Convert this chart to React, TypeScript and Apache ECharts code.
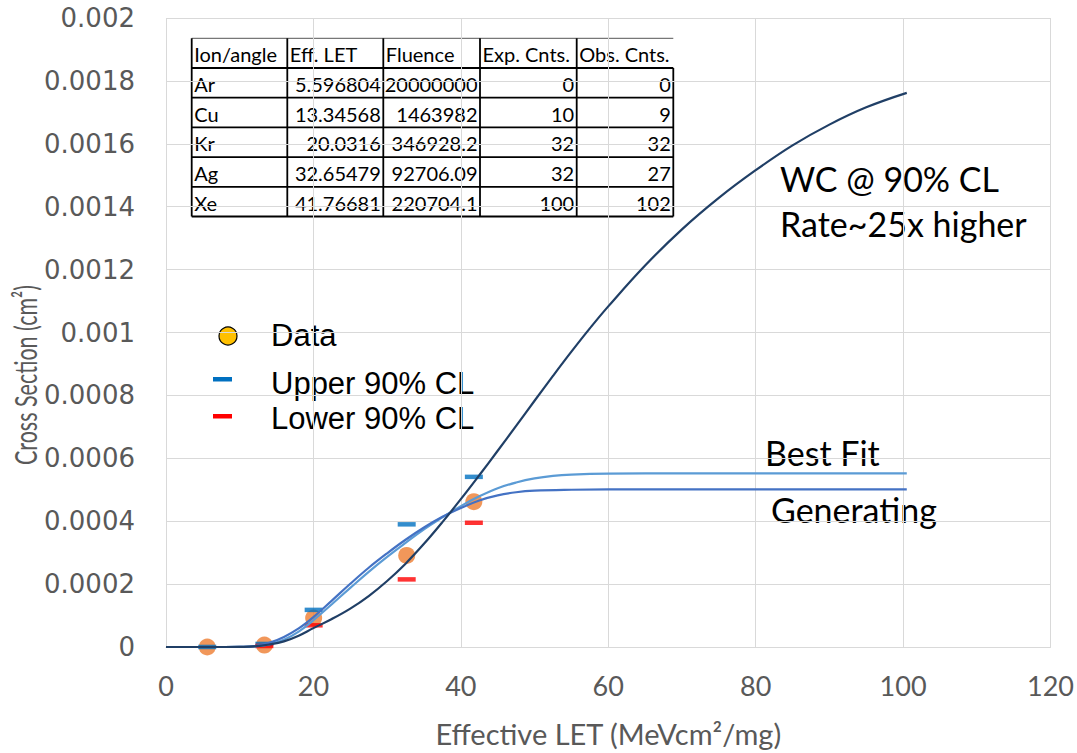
import React, { useEffect, useRef } from "react";
import * as echarts from "echarts";

// Measured single-event cross sections per ion
const ions = ["Ar", "Cu", "Kr", "Ag", "Xe"];
const effLet = [5.596804, 13.34568, 20.0316, 32.65479, 41.76681];
const fluenceLabels = ["20000000", "1463982", "346928.2", "92706.09", "220704.1"];
const expCounts = [0, 10, 32, 32, 100];
const obsCounts = [0, 9, 32, 27, 102];
const tableHeader = ["Ion/angle", "Eff. LET", "Fluence", "Exp. Cnts.", "Obs. Cnts."];

// Cross section (cm^2) and its 90% confidence bounds at each LET
const crossSection = [0, 0.0000061, 0.0000922, 0.000291, 0.000462];
const upperCL = [0.0000001, 0.0000097, 0.000118, 0.00039, 0.000541];
const lowerCL = [null, 0.0000032, 0.000069, 0.000215, 0.000395];

// Weibull curves sampled along LET: [LET, cross section]
const generatingCurve: [number, number][] = [
  [0, 0], [8, 0], [10, 0.0000005], [12, 0.000003], [14, 0.000013], [16, 0.000032],
  [18, 0.000059], [20, 0.000095], [22.5, 0.0001475], [25, 0.000201], [27.5, 0.000252],
  [30, 0.000298], [32.5, 0.000341], [35, 0.00038], [37.5, 0.000414], [40, 0.000442],
  [42.5, 0.000466], [45, 0.000482], [47.5, 0.000492], [50, 0.000497], [55, 0.0005],
  [60, 0.000501], [70, 0.000501], [80, 0.000501], [90, 0.000501], [100.5, 0.000501],
];
const bestFitCurve: [number, number][] = [
  [0, 0], [8, 0], [10, 0.0000004], [12, 0.000002], [14, 0.0000085], [16, 0.000023],
  [18, 0.000049], [20, 0.000085], [22.5, 0.000136], [25, 0.000188], [27.5, 0.000239],
  [30, 0.0002865], [32.5, 0.000331], [35, 0.000374], [37.5, 0.000412], [40, 0.000448],
  [42.5, 0.000479], [45, 0.000505], [47.5, 0.000523], [50, 0.000536], [52.5, 0.000544],
  [55, 0.000548], [60, 0.000551], [70, 0.000552], [80, 0.000552], [90, 0.000552],
  [100.5, 0.000552],
];
const worstCaseCurve: [number, number][] = [
  [0, 0], [8, 0], [10, 0.0000004], [12, 0.000002], [14, 0.000008], [16, 0.000018],
  [18, 0.000036], [20, 0.00006], [22.5, 0.000089], [25, 0.000122], [27.5, 0.000162],
  [30, 0.00021], [32.5, 0.000265], [35, 0.000328], [37.5, 0.000397], [40, 0.00047],
  [42.5, 0.000546], [45, 0.000624], [47.5, 0.000703], [50, 0.000783], [52.5, 0.000862],
  [55, 0.000939], [57.5, 0.001013], [60, 0.001083], [65, 0.001213], [70, 0.001328],
  [75, 0.001428], [80, 0.001516], [85, 0.001595], [90, 0.001661], [95, 0.001716],
  [100.5, 0.001762],
];

const xTicks = { min: 0, max: 120, interval: 20 };
const yTicks = { min: 0, max: 0.002, interval: 0.0002 };

// Table layout (pixels)
const TABLE_COLS = [191.7, 287.3, 383.3, 480, 576.7, 673.3];
const TABLE_TOP = 38.3;
const TABLE_ROW_H = 29.7;

function buildTable() {
  const rows: string[][] = [
    tableHeader,
    ...ions.map((ion, i) => [
      ion,
      String(effLet[i]),
      fluenceLabels[i],
      String(expCounts[i]),
      String(obsCounts[i]),
    ]),
  ];
  const els: any[] = [];
  const bottom = TABLE_TOP + TABLE_ROW_H * rows.length;
  const left = TABLE_COLS[0];
  const right = TABLE_COLS[TABLE_COLS.length - 1];
  const ink = { stroke: "#000", lineWidth: 1.8 };
  // top edge (thin)
  els.push({ type: "line", shape: { x1: left, y1: TABLE_TOP, x2: right, y2: TABLE_TOP }, style: { stroke: "#555", lineWidth: 1 } });
  // horizontal rules below header and each row
  for (let r = 1; r <= rows.length; r++) {
    const y = TABLE_TOP + TABLE_ROW_H * r;
    els.push({ type: "line", shape: { x1: left, y1: y, x2: right, y2: y }, style: ink });
  }
  // vertical rules
  TABLE_COLS.forEach((x, c) => {
    const y1 = c === TABLE_COLS.length - 1 ? TABLE_TOP + TABLE_ROW_H : TABLE_TOP;
    els.push({ type: "line", shape: { x1: x, y1, x2: x, y2: bottom }, style: ink });
  });
  rows.forEach((row, r) => {
    const cy = TABLE_TOP + TABLE_ROW_H * (r + 0.5) + 1;
    row.forEach((txt, c) => {
      const leftAlign = r === 0 || c === 0;
      els.push({
        type: "text",
        x: leftAlign ? TABLE_COLS[c] + 2.5 : TABLE_COLS[c + 1] - 2.5,
        y: cy,
        style: {
          text: txt,
          fill: "#000",
          font: "20px Lato",
          align: leftAlign ? "left" : "right",
          verticalAlign: "middle",
        },
      });
    });
  });
  return { type: "group", children: els };
}

function buildLegend() {
  const font = "31px 'Liberation Sans', Arial, sans-serif";
  return {
    type: "group",
    children: [
      { type: "circle", shape: { cx: 228, cy: 336, r: 9 }, style: { fill: "#FFC000", stroke: "#000", lineWidth: 1.2 } },
      { type: "text", x: 271, y: 335, style: { text: "Data", font, fill: "#000", align: "left", verticalAlign: "middle" } },
      { type: "rect", shape: { x: 213, y: 377, width: 19, height: 4.5 }, style: { fill: "#0070C0" } },
      { type: "text", x: 271, y: 383, style: { text: "Upper 90% CL", font, fill: "#000", align: "left", verticalAlign: "middle" } },
      { type: "rect", shape: { x: 213, y: 414, width: 19, height: 4.5 }, style: { fill: "#FF0000" } },
      { type: "text", x: 271, y: 418, style: { text: "Lower 90% CL", font, fill: "#000", align: "left", verticalAlign: "middle" } },
    ],
  };
}

function buildNotes() {
  const big = "34px Lato";
  const mid = "34px Lato";
  const t = (x: number, y: number, text: string, font: string) => ({
    type: "text",
    x,
    y,
    style: { text, font, fill: "#000", align: "left", verticalAlign: "middle" },
  });
  return {
    type: "group",
    children: [
      t(780, 178, "WC @ 90% CL", big),
      t(780, 223, "Rate~25x higher", big),
      t(765, 452, "Best Fit", mid),
      t(771, 509, "Generating", mid),
      {
        type: "text",
        x: 25,
        y: 375,
        rotation: Math.PI / 2,
        scaleY: 1.45,
        style: {
          text: "Cross Section (cm²)",
          font: "21.5px Lato",
          fill: "#595959",
          align: "center",
          verticalAlign: "middle",
        },
      },
    ],
  };
}

export default function App() {
  const ref = useRef<HTMLDivElement>(null);

  useEffect(() => {
    if (!ref.current) return;
    const chart = echarts.init(ref.current, null, { renderer: "svg" });
    const grid = "#D9D9D9";
    const curveLine = (name: string, data: [number, number][], color: string) => ({
      name,
      type: "line",
      data,
      smooth: 0.4,
      showSymbol: false,
      lineStyle: { color, width: 2.2 },
      z: 3,
    });
    chart.setOption({
      animation: false,
      backgroundColor: "#fff",
      grid: { left: 166, right: 24, top: 18, bottom: 102, containLabel: false },
      xAxis: {
        type: "value",
        ...xTicks,
        name: "Effective LET (MeVcm²/mg)",
        nameLocation: "middle",
        nameGap: 72,
        nameTextStyle: { fontFamily: "Lato", fontSize: 29, color: "#595959" },
        axisLine: { show: true, lineStyle: { color: grid, width: 1 } },
        axisTick: { show: false },
        splitLine: { show: true, lineStyle: { color: grid, width: 1 } },
        axisLabel: { fontFamily: "Lato", fontSize: 27, color: "#595959", margin: 25 },
      },
      yAxis: {
        type: "value",
        ...yTicks,
        axisLine: { show: false },
        axisTick: { show: false },
        splitLine: { show: true, lineStyle: { color: grid, width: 1 } },
        axisLabel: {
          fontFamily: "DejaVu Sans",
          fontSize: 26,
          color: "#595959",
          margin: 31,
          formatter: (v: number) => (v === 0 ? "0" : String(+v.toFixed(4))),
        },
      },
      series: [
        {
          name: "Data",
          type: "scatter",
          data: effLet.map((x, i) => [x, crossSection[i]]),
          symbol: "circle",
          symbolSize: 17,
          itemStyle: { color: "#ED7D31" },
          z: 2,
        },
        {
          name: "Upper 90% CL",
          type: "scatter",
          data: effLet.map((x, i) => [x, upperCL[i]]),
          symbol: "rect",
          symbolSize: [18, 4.5],
          itemStyle: { color: "#0070C0" },
          z: 2,
        },
        {
          name: "Lower 90% CL",
          type: "scatter",
          data: effLet
            .map((x, i) => [x, lowerCL[i]])
            .filter((p) => p[1] !== null),
          symbol: "rect",
          symbolSize: [18, 4.5],
          itemStyle: { color: "#FF0000" },
          z: 2,
        },
        curveLine("Best Fit", bestFitCurve, "#5B9BD5"),
        curveLine("Generating", generatingCurve, "#4472C4"),
        curveLine("WC @ 90% CL", worstCaseCurve, "#203F66"),
      ],
      graphic: [buildTable(), buildLegend(), buildNotes()],
    });
    return () => chart.dispose();
  }, []);

  return (
    <div
      ref={ref}
      style={{ position: "fixed", left: 0, top: 0, width: 1077, height: 753 }}
    />
  );
}
